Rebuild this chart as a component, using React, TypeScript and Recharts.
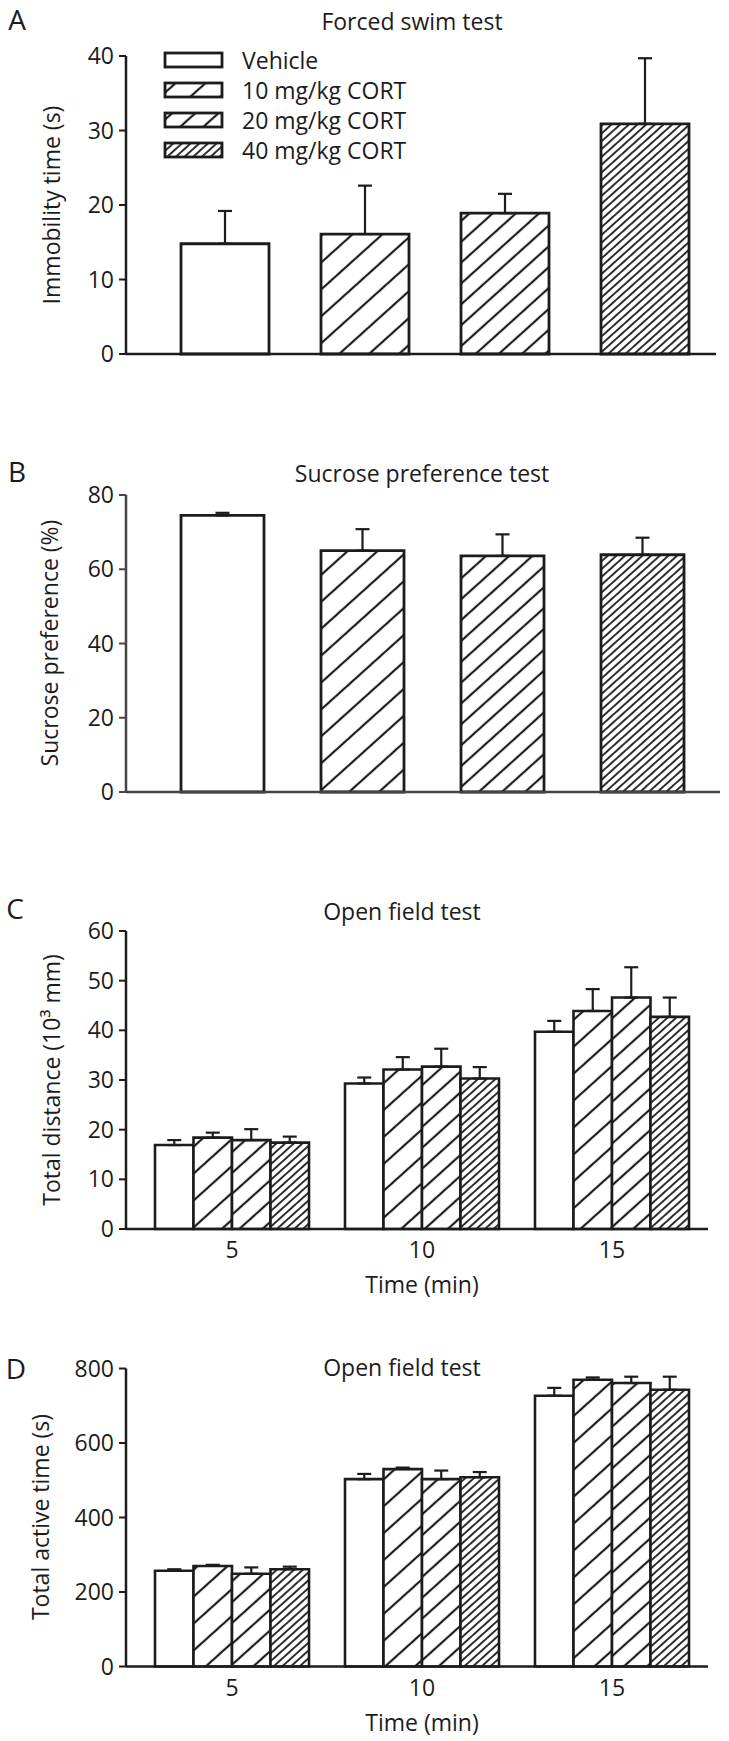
import React from 'react';
import { BarChart, Bar, XAxis, YAxis, ErrorBar, Cell } from 'recharts';

// ---------- data ----------
const groups = ['Vehicle', '10 mg/kg CORT', '20 mg/kg CORT', '40 mg/kg CORT'];

// A: Forced swim test – immobility time (s)
const fstMean = [14.8, 16.1, 18.9, 30.9];
const fstSem = [4.4, 6.5, 2.6, 8.8];
const fstTicks = [0, 10, 20, 30, 40];

// B: Sucrose preference test (%)
const sptMean = [74.5, 65.0, 63.6, 63.9];
const sptSem = [0.7, 5.8, 5.8, 4.6];
const sptTicks = [0, 20, 40, 60, 80];

// C: Open field – total distance (10^3 mm)
const timePoints = ['5', '10', '15'];
const distVeh = [16.9, 29.3, 39.7];
const distVehSem = [1.0, 1.2, 2.2];
const dist10 = [18.4, 32.1, 43.9];
const dist10Sem = [1.0, 2.5, 4.4];
const dist20 = [17.9, 32.7, 46.6];
const dist20Sem = [2.2, 3.6, 6.1];
const dist40 = [17.4, 30.3, 42.7];
const dist40Sem = [1.2, 2.3, 3.9];
const distTicks = [0, 10, 20, 30, 40, 50, 60];

// D: Open field – total active time (s)
const actVeh = [257, 503, 727];
const actVehSem = [4, 14, 21];
const act10 = [270, 530, 770];
const act10Sem = [3, 4, 6];
const act20 = [249, 503, 761];
const act20Sem = [17, 23, 17];
const act40 = [261, 508, 743];
const act40Sem = [7, 14, 35];
const actTicks = [0, 200, 400, 600, 800];

// ---------- styling ----------
const FONT = '"Open Sans", "Liberation Sans", Arial, sans-serif';
const INK = '#1c1c1c';
const keys = ['veh', 'c10', 'c20', 'c40'];

function hatchDefs(s: string) {
  const specs: [string, number, number][] = [
    ['c10', 20, 2.2],
    ['c20', 15.5, 2.2],
    ['c40', 5.8, 1.8],
  ];
  return (
    <defs>
      {specs.map(([k, d, sw]) => (
        <pattern
          key={k}
          id={`${k}-${s}`}
          patternUnits="userSpaceOnUse"
          width={d}
          height={d}
          patternTransform="rotate(48)"
        >
          <rect width={d} height={d} fill="#fff" />
          <line x1={d / 2} y1={0} x2={d / 2} y2={d} stroke={INK} strokeWidth={sw} />
        </pattern>
      ))}
    </defs>
  );
}
const fillFor = (k: string, s: string) => (k === 'veh' ? '#fff' : `url(#${k}-${s})`);

const tickStyle = { fontFamily: FONT, fontSize: 23, fill: INK };

function T({ x, y, size = 23, rot = false, children }: any) {
  return (
    <div
      style={{
        position: 'absolute',
        left: x,
        top: y,
        transform: `translate(-50%, -50%)${rot ? ' rotate(-90deg)' : ''}`,
        fontFamily: FONT,
        fontSize: size,
        lineHeight: 1.2,
        color: INK,
        whiteSpace: 'nowrap',
      }}
    >
      {children}
    </div>
  );
}

function Legend() {
  const rows = [60, 90, 120, 150];
  return (
    <>
      {groups.map((g, i) => (
        <div key={g} style={{ position: 'absolute', left: 163, top: rows[i] - 10, height: 20, display: 'flex', alignItems: 'center' }}>
          <svg width={61} height={18} style={{ display: 'block' }}>
            {hatchDefs('L' + i)}
            <rect x={2} y={2} width={57} height={14} fill={fillFor(keys[i], 'L' + i)} stroke={INK} strokeWidth={2.8} />
          </svg>
          <span style={{ marginLeft: 18, fontFamily: FONT, fontSize: 23, lineHeight: 1, color: INK, whiteSpace: 'nowrap' }}>{g}</span>
        </div>
      ))}
    </>
  );
}

function SinglePanel({ top, height, data, mTop, mRight, mBottom, ticks, domain, barSize, padL, padR, suffix, axisColor = INK }: any) {
  const axisLine = { stroke: axisColor, strokeWidth: 2.5 };
  return (
    <div style={{ position: 'absolute', left: 0, top }}>
      <BarChart width={729} height={height} data={data} margin={{ top: mTop, right: mRight, left: 0, bottom: mBottom }} barSize={barSize}>
        {hatchDefs(suffix)}
        <XAxis dataKey="group" tick={false} tickLine={false} axisLine={axisLine} height={2} padding={{ left: padL, right: padR }} />
        <YAxis domain={domain} ticks={ticks} width={126} tickSize={7} tickMargin={5} axisLine={axisLine} tickLine={{ stroke: axisColor, strokeWidth: 2 }} tick={tickStyle} interval={0} />
        <Bar dataKey="mean" stroke={INK} strokeWidth={2.8} isAnimationActive={false}>
          {data.map((d: any, i: number) => (
            <Cell key={i} fill={fillFor(keys[i], suffix)} />
          ))}
          <ErrorBar dataKey="err" direction="y" width={7} stroke={INK} strokeWidth={2.2} />
        </Bar>
      </BarChart>
    </div>
  );
}

function GroupPanel({ top, height, data, mTop, mRight, mBottom, ticks, domain, padL, padR, suffix, barSize }: any) {
  const axisLine = { stroke: INK, strokeWidth: 2.5 };
  return (
    <div style={{ position: 'absolute', left: 0, top }}>
      <BarChart width={729} height={height} data={data} margin={{ top: mTop, right: mRight, left: 0, bottom: mBottom }} barGap={0} barSize={barSize}>
        {hatchDefs(suffix)}
        <XAxis dataKey="t" tickSize={0} tickLine={false} tickMargin={13} axisLine={axisLine} tick={tickStyle} height={40} padding={{ left: padL, right: padR }} interval={0} />
        <YAxis domain={domain} ticks={ticks} width={126} tickSize={7} tickMargin={5} axisLine={axisLine} tickLine={{ stroke: INK, strokeWidth: 2 }} tick={tickStyle} interval={0} />
        {keys.map((k) => (
          <Bar key={k} dataKey={k} fill={fillFor(k, suffix)} stroke={INK} strokeWidth={2.6} isAnimationActive={false}>
            <ErrorBar dataKey={k + 'E'} direction="y" width={7} stroke={INK} strokeWidth={2.2} />
          </Bar>
        ))}
      </BarChart>
    </div>
  );
}

const fstData = groups.map((g, i) => ({ group: g, mean: fstMean[i], err: [0, fstSem[i]] }));
const sptData = groups.map((g, i) => ({ group: g, mean: sptMean[i], err: [0, sptSem[i]] }));
const distData = timePoints.map((t, i) => ({
  t,
  veh: distVeh[i], vehE: [0, distVehSem[i]],
  c10: dist10[i], c10E: [0, dist10Sem[i]],
  c20: dist20[i], c20E: [0, dist20Sem[i]],
  c40: dist40[i], c40E: [0, dist40Sem[i]],
}));
const actData = timePoints.map((t, i) => ({
  t,
  veh: actVeh[i], vehE: [0, actVehSem[i]],
  c10: act10[i], c10E: [0, act10Sem[i]],
  c20: act20[i], c20E: [0, act20Sem[i]],
  c40: act40[i], c40E: [0, act40Sem[i]],
}));

export default function App() {
  return (
    <div style={{ position: 'absolute', left: 0, top: 0, width: 729, height: 1741, background: '#fff', overflow: 'hidden' }}>
      {/* Panel A */}
      <SinglePanel top={0} height={400} data={fstData} mTop={56} mRight={13} mBottom={44} ticks={fstTicks} domain={[0, 40]} barSize={88} padL={29} padR={1} suffix="A" />
      <T x={17} y={20} size={28}>A</T>
      <T x={412} y={22}>Forced swim test</T>
      <T x={52} y={205} rot>Immobility time (s)</T>
      <Legend />

      {/* Panel B */}
      <SinglePanel top={420} height={400} data={sptData} mTop={75} mRight={9} mBottom={26} ticks={sptTicks} domain={[0, 80]} barSize={83} padL={26} padR={8} suffix="B" axisColor="#444" />
      <T x={17} y={472} size={28}>B</T>
      <T x={422} y={474}>Sucrose preference test</T>
      <T x={50} y={643} rot>Sucrose preference (%)</T>

      {/* Panel C */}
      <GroupPanel top={850} height={450} data={distData} mTop={81} mRight={21} mBottom={31} ticks={distTicks} domain={[0, 60]} padL={11} padR={1} barSize={38.5} suffix="C" />
      <T x={15} y={909} size={28}>C</T>
      <T x={402} y={912}>Open field test</T>
      <T x={52} y={1080} rot>Total distance (10³ mm)</T>
      <T x={422} y={1285}>Time (min)</T>

      {/* Panel D */}
      <GroupPanel top={1300} height={441} data={actData} mTop={68.5} mRight={21} mBottom={34.5} ticks={actTicks} domain={[0, 800]} padL={11} padR={1} barSize={38.5} suffix="D" />
      <T x={16} y={1369} size={28}>D</T>
      <T x={402} y={1368}>Open field test</T>
      <T x={41} y={1517} rot>Total active time (s)</T>
      <T x={422} y={1723}>Time (min)</T>
    </div>
  );
}
